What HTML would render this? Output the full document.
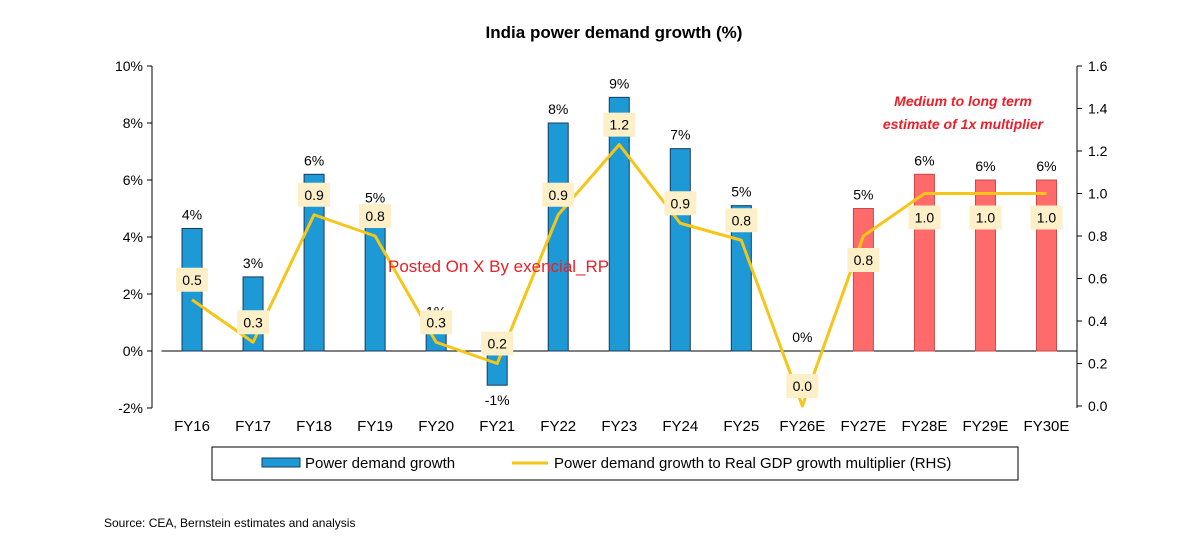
<!DOCTYPE html>
<html><head><meta charset="utf-8"><style>
body{margin:0;background:#fff;font-family:"Liberation Sans",Arial,sans-serif}
svg text{font-family:"Liberation Sans",Arial,sans-serif}
</style></head><body>
<svg id="c" width="1200" height="545" viewBox="0 0 1200 545">
<text x="614" y="38" text-anchor="middle" font-size="17" font-weight="bold" fill="#000">India power demand growth (%)</text>
<g id="plot"></g>
<text x="388" y="272" font-size="17" fill="#e8202a">Posted On X By exencial_RP</text>
<text x="963" y="106" text-anchor="middle" font-size="14" font-weight="bold" font-style="italic" fill="#e8202a">Medium to long term</text>
<text x="963" y="129" text-anchor="middle" font-size="14" font-weight="bold" font-style="italic" fill="#e8202a">estimate of 1x multiplier</text>
<g>
<rect x="212" y="447" width="806" height="33" fill="#fff" stroke="#000" stroke-width="1"/>
<rect x="262" y="458" width="38" height="9" fill="#1d9ad6" stroke="#1a3a5c"/>
<text x="305" y="468" font-size="15" fill="#000">Power demand growth</text>
<line x1="512" y1="463" x2="548" y2="463" stroke="#f5c518" stroke-width="3"/>
<text x="554" y="468" font-size="15" fill="#000">Power demand growth to Real GDP growth multiplier (RHS)</text>
</g>
<text x="104" y="527" font-size="12" fill="#000">Source: CEA, Bernstein estimates and analysis</text>
</svg>
<script>
const categories=["FY16","FY17","FY18","FY19","FY20","FY21","FY22","FY23","FY24","FY25","FY26E","FY27E","FY28E","FY29E","FY30E"];
const growth=[4.3,2.6,6.2,4.9,0.9,-1.2,8.0,8.9,7.1,5.1,0,5.0,6.2,6.0,6.0];
const growthLabels=["4%","3%","6%","5%","1%","-1%","8%","9%","7%","5%","0%","5%","6%","6%","6%"];
const multiplier=[0.5,0.3,0.9,0.8,0.3,0.2,0.9,1.23,0.86,0.78,0.0,0.8,1.0,1.0,1.0];
const multLabels=["0.5","0.3","0.9","0.8","0.3","0.2","0.9","1.2","0.9","0.8","0.0","0.8","1.0","1.0","1.0"];
const estimate=[false,false,false,false,false,false,false,false,false,false,false,true,true,true,true];
const leftTicks=[-2,0,2,4,6,8,10];
const rightTicks=[0,0.2,0.4,0.6,0.8,1.0,1.2,1.4,1.6];

const NS="http://www.w3.org/2000/svg";
const g=document.getElementById('plot');
const X0=161.5,X1=1077,PT=66,PB=408;
const step=(X1-X0)/categories.length;
const xc=i=>X0+step*(i+0.5);
const yL=v=>PB-(v+2)/12*(PB-PT);
const yR=v=>406-v/1.6*(406-PT);
function el(t,a,txt){const e=document.createElementNS(NS,t);for(const k in a)e.setAttribute(k,a[k]);if(txt!==undefined)e.textContent=txt;g.appendChild(e);return e;}

let e=el('line',{x1:X0,y1:yL(0),x2:X1,y2:yL(0),stroke:'#000','stroke-width':1});

e=el('line',{x1:152,y1:PT,x2:152,y2:PB,stroke:'#000','stroke-width':1});

e=el('line',{x1:1077,y1:PT,x2:1077,y2:PB,stroke:'#000','stroke-width':1});

leftTicks.forEach(v=>{
 el('line',{x1:147,y1:yL(v),x2:152,y2:yL(v),stroke:'#000'});
 const t=el('text',{x:143,y:yL(v)+5,'text-anchor':'end','font-size':14},v+'%');
 
});
rightTicks.forEach(v=>{
 el('line',{x1:1077,y1:yR(v),x2:1082,y2:yR(v),stroke:'#000'});
 const t=el('text',{x:1088,y:yR(v)+5,'font-size':14},v.toFixed(1));
 
});
categories.forEach((c,i)=>{
 const t=el('text',{x:xc(i),y:431,'text-anchor':'middle','font-size':15},c);
 
 const v=growth[i];const y1=yL(Math.max(v,0)),y2=yL(Math.min(v,0));
 if(v!==0){
  const b=el('rect',{x:xc(i)-10,y:y1,width:20,height:y2-y1,fill:estimate[i]?'#ff6b6b':'#1d9ad6',stroke:estimate[i]?'#c84a4a':'#1a3a5c','stroke-width':1});
  
 }
 const ly=v<0?y2+20:y1-9;
 const l=el('text',{x:xc(i),y:ly,'text-anchor':'middle','font-size':14},growthLabels[i]);
 
});
const pts=multiplier.map((v,i)=>xc(i)+','+yR(v)).join(' ');
e=el('polyline',{points:pts,fill:'none',stroke:'#f5c518','stroke-width':3,'stroke-linejoin':'round'});

multiplier.forEach((v,i)=>{
 const cy=estimate[i]?yR(v)+24:yR(v)-20;
 const r=el('rect',{x:xc(i)-16,y:cy-12,width:32,height:24,fill:'#fdf0c8'});
 
 const t=el('text',{x:xc(i),y:cy+5,'text-anchor':'middle','font-size':14},multLabels[i]);
 
});
</script>
</body></html>
